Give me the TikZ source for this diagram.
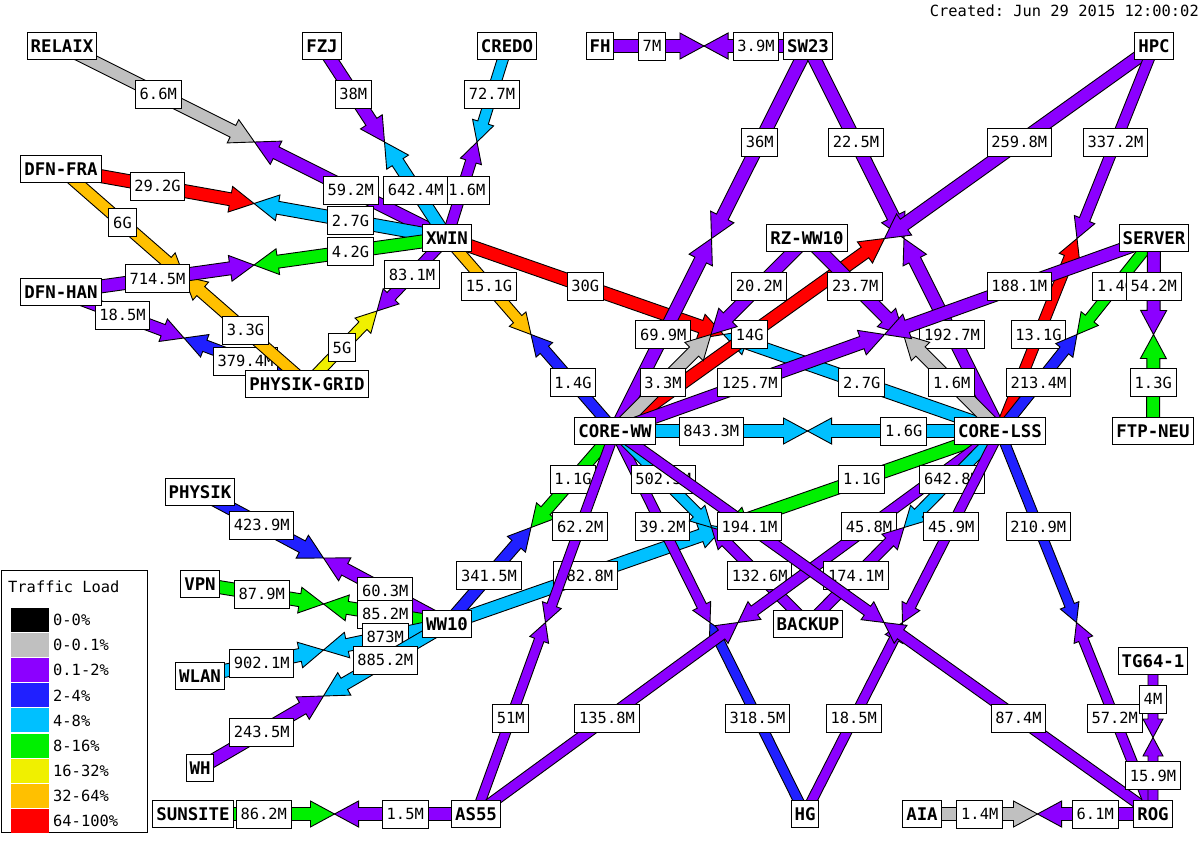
\documentclass[tikz,border=0pt]{standalone}
\usepackage{fontspec}
\setmonofont{DejaVu Sans Mono}
\usetikzlibrary{calc}
\pgfdeclarelayer{links}
\pgfsetlayers{links,main}
\definecolor{cgray}{RGB}{192,192,192}
\definecolor{cpur}{RGB}{140,0,255}
\definecolor{cblu}{RGB}{32,32,255}
\definecolor{ccya}{RGB}{0,192,255}
\definecolor{cgrn}{RGB}{0,240,0}
\definecolor{cyel}{RGB}{240,240,0}
\definecolor{cora}{RGB}{255,192,0}
\definecolor{cred}{RGB}{255,0,0}
\tikzset{
 wmnode/.style={draw=black, fill=white, line width=1pt, font=\ttfamily\bfseries\fontsize{17.4}{18}\selectfont, inner xsep=3.5pt, inner ysep=0pt, minimum height=27pt},
 wmlabel/.style={draw=black, fill=white, line width=1pt, font=\ttfamily\fontsize{15.4}{16}\selectfont, inner xsep=4.3pt, inner ysep=0pt, minimum height=28pt},
 wmarrow/.style={draw=black, line width=0.9pt, line join=miter},
 legtext/.style={font=\ttfamily\fontsize{15.4}{16}\selectfont, inner sep=0pt, anchor=west},
 lFlabelb/.style={text width=47pt, align=right},
}
% half arrow from #1 to #2 (midpoint), colour #3, half body width #4
\newcommand\wmhalf[4]{%
 \pgfmathsetmacro\wmhw{#4}%
 \pgfmathsetmacro\wmhH{2*#4}%
 \pgfmathsetmacro\wmhL{3.7*#4}%
 \coordinate (wmq) at ($(#2)!\wmhL pt!(#1)$);
 \filldraw[wmarrow, fill=#3]
  ($(#1)!\wmhw pt!90:(#2)$) -- ($(wmq)!\wmhw pt!90:(#2)$) -- ($(wmq)!\wmhH pt!90:(#2)$) -- (#2)
  -- ($(wmq)!\wmhH pt!-90:(#2)$) -- ($(wmq)!\wmhw pt!-90:(#2)$) -- ($(#1)!\wmhw pt!-90:(#2)$) -- cycle;
}
% link #1 -- #2 ; #3 colour A->B, #4 label, #5 colour B->A, #6 label, #7 half width, #8 id
\newcommand\wmlink[8]{%
 \coordinate (#8m) at ($(#1)!0.5!(#2)$);
 \wmhalf{#1}{#8m}{#3}{#7}
 \wmhalf{#2}{#8m}{#5}{#7}
 \node[wmlabel, #8labela/.try] (#8a) at ($(#1)!0.25!(#2)$) {#4};
 \node[wmlabel, #8labelb/.try] (#8b) at ($(#1)!0.75!(#2)$) {#6};
}
\begin{document}
\begin{tikzpicture}[x=1pt,y=-1pt]
\useasboundingbox (0,0) rectangle (1200,846);
% nodes
\node[wmnode] (relaix) at (62,46) {RELAIX};
\node[wmnode] (fzj) at (322,46) {FZJ};
\node[wmnode] (credo) at (507,46) {CREDO};
\node[wmnode] (fh) at (600,46) {FH};
\node[wmnode] (sw23) at (808,46) {SW23};
\node[wmnode] (hpc) at (1154,46) {HPC};
\node[wmnode] (dfnfra) at (61,169) {DFN-FRA};
\node[wmnode] (xwin) at (447,238) {XWIN};
\node[wmnode] (rzww10) at (807,238) {RZ-WW10};
\node[wmnode] (server) at (1154,238) {SERVER};
\node[wmnode] (dfnhan) at (61,292) {DFN-HAN};
\node[wmnode] (physikgrid) at (307,384) {PHYSIK-GRID};
\node[wmnode] (coreww) at (615,431) {CORE-WW};
\node[wmnode] (corelss) at (1000,431) {CORE-LSS};
\node[wmnode] (ftpneu) at (1153,431) {FTP-NEU};
\node[wmnode] (physik) at (200,492) {PHYSIK};
\node[wmnode] (vpn) at (200,584) {VPN};
\node[wmnode] (ww10) at (447,624) {WW10};
\node[wmnode] (backup) at (808,624) {BACKUP};
\node[wmnode] (wlan) at (200,676) {WLAN};
\node[wmnode] (tg64) at (1153,661) {TG64-1};
\node[wmnode] (wh) at (200,768) {WH};
\node[wmnode] (sunsite) at (193,814) {SUNSITE};
\node[wmnode] (as55) at (476,814) {AS55};
\node[wmnode] (hg) at (805,814) {HG};
\node[wmnode] (aia) at (922,814) {AIA};
\node[wmnode] (rog) at (1153,814) {ROG};
% title
\node[legtext, anchor=east] (created) at (1199,11) {Created: Jun 29 2015 12:00:02};
% legend
\node[draw=black, line width=1pt, fill=white, minimum width=146pt, minimum height=262pt, anchor=north west, inner sep=0pt] (legend) at (1,570) {};
\node[legtext] (legtitle) at (8,587) {Traffic Load};
\foreach \c/\t [count=\i from 0] in {black/0-0\%, cgray/0-0.1\%, cpur/0.1-2\%, cblu/2-4\%, ccya/4-8\%, cgrn/8-16\%, cyel/16-32\%, cora/32-64\%, cred/64-100\%}{
 \node[fill=\c, minimum width=38pt, minimum height=24pt, inner sep=0pt] (sw\i) at (30,620+25.1*\i) {};
 \node[legtext] (lt\i) at (53,620+25.1*\i) {\t};
}
\begin{pgfonlayer}{links}
\fill[white] (0,0) rectangle (1200,846);
\wmlink{relaix}{xwin}{cgray}{6.6M}{cpur}{59.2M}{6.5}{lA}
\wmlink{dfnfra}{xwin}{cred}{29.2G}{ccya}{2.7G}{6.5}{lB}
\wmlink{dfnhan}{physikgrid}{cpur}{18.5M}{cblu}{379.4M}{6}{lC}
\wmlink{dfnfra}{physikgrid}{cora}{6G}{cora}{3.3G}{6}{lD}
\wmlink{dfnhan}{xwin}{cpur}{714.5M}{cgrn}{4.2G}{6.5}{lE}
\wmlink{credo}{xwin}{ccya}{72.7M}{cpur}{1.6M}{5.5}{lF}
\wmlink{fzj}{xwin}{cpur}{38M}{ccya}{642.4M}{6.5}{lG}
\wmlink{physikgrid}{xwin}{cyel}{5G}{cpur}{83.1M}{5.5}{lH}
\wmlink{xwin}{coreww}{cora}{15.1G}{cblu}{1.4G}{5.5}{lI}
\wmlink{xwin}{corelss}{cred}{30G}{ccya}{2.7G}{6.5}{lJ}
\wmlink{fh}{sw23}{cpur}{7M}{cpur}{3.9M}{6.5}{lK}
\wmlink{sw23}{coreww}{cpur}{36M}{cpur}{69.9M}{6.5}{lL}
\wmlink{sw23}{corelss}{cpur}{22.5M}{cpur}{192.7M}{6.5}{lM}
\wmlink{hpc}{coreww}{cpur}{259.8M}{cred}{14G}{6.5}{lN}
\wmlink{hpc}{corelss}{cpur}{337.2M}{cred}{13.1G}{5.5}{lO}
\wmlink{rzww10}{coreww}{cpur}{20.2M}{cgray}{3.3M}{6.5}{lP}
\wmlink{rzww10}{corelss}{cpur}{23.7M}{cgray}{1.6M}{6.5}{lQ}
\wmlink{server}{coreww}{cpur}{188.1M}{cpur}{125.7M}{6.5}{lR}
\wmlink{server}{corelss}{cgrn}{1.4G}{cblu}{213.4M}{5.5}{lS}
\wmlink{server}{ftpneu}{cpur}{54.2M}{cgrn}{1.3G}{6.5}{lT}
\wmlink{coreww}{corelss}{ccya}{843.3M}{ccya}{1.6G}{6.5}{lU}
\wmlink{physik}{ww10}{cblu}{423.9M}{cpur}{60.3M}{6.5}{lV}
\wmlink{vpn}{ww10}{cgrn}{87.9M}{cgrn}{85.2M}{6.5}{lW}
\wmlink{wlan}{ww10}{ccya}{902.1M}{ccya}{873M}{6.5}{lX}
\wmlink{wh}{ww10}{cpur}{243.5M}{ccya}{885.2M}{6.5}{lY}
\wmlink{coreww}{ww10}{cgrn}{1.1G}{cblu}{341.5M}{6}{lZ}
\wmlink{ww10}{corelss}{ccya}{782.8M}{cgrn}{1.1G}{6.5}{la}
\wmlink{coreww}{as55}{cpur}{62.2M}{cpur}{51M}{5}{lb}
\wmlink{coreww}{hg}{cpur}{39.2M}{cblu}{318.5M}{5}{lc}
\wmlink{coreww}{backup}{ccya}{502.3M}{cpur}{132.6M}{5.5}{ld}
\wmlink{corelss}{as55}{cpur}{45.8M}{cpur}{135.8M}{5.5}{le}
\wmlink{corelss}{backup}{ccya}{642.8M}{cpur}{174.1M}{5.5}{lf}
\wmlink{corelss}{hg}{cpur}{45.9M}{cpur}{18.5M}{5}{lg}
\wmlink{coreww}{rog}{cpur}{194.1M}{cpur}{87.4M}{5.5}{lh}
\wmlink{corelss}{rog}{cblu}{210.9M}{cpur}{57.2M}{5}{li}
\wmlink{tg64}{rog}{cpur}{4M}{cpur}{15.9M}{5}{lj}
\wmlink{sunsite}{as55}{cgrn}{86.2M}{cpur}{1.5M}{6.5}{lk}
\wmlink{aia}{rog}{cgray}{1.4M}{cpur}{6.1M}{6.5}{ll}
\end{pgfonlayer}
\end{tikzpicture}
\end{document}
